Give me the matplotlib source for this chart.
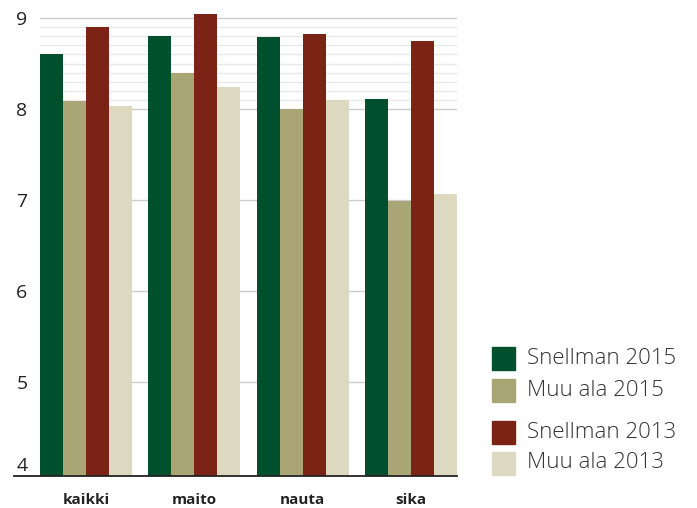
import numpy as np
import matplotlib
matplotlib.use("Agg")
import matplotlib.pyplot as plt
import matplotlib.transforms as mtransforms
from matplotlib.patches import Rectangle
from matplotlib.lines import Line2D

categories = ["kaikki", "maito", "nauta", "sika"]
series_names = ["Snellman 2015", "Muu ala 2015", "Snellman 2013", "Muu ala 2013"]
snellman_2015 = [8.60, 8.80, 8.79, 8.11]
muu_2015 = [8.09, 8.40, 8.00, 6.99]
snellman_2013 = [8.90, 9.04, 8.83, 8.75]
muu_2013 = [8.03, 8.24, 8.10, 7.07]
y_ticks = [4, 5, 6, 7, 8, 9]

colors = ["#004f2d", "#a9a575", "#7b2315", "#ddd9c1"]
series = [snellman_2015, muu_2015, snellman_2013, muu_2013]

plt.rcParams["font.family"] = ["Open Sans", "DejaVu Sans"]

W, H = 697, 508
fig = plt.figure(figsize=(W / 100, H / 100), dpi=100)
ax = fig.add_axes([40 / W, 1 - 476 / H, 417 / W, 467 / H])

x = np.arange(len(categories))
bw = 0.212
for i, (vals, c) in enumerate(zip(series, colors)):
    ax.bar(x + (i - 1.5) * bw, vals, bw, color=c, zorder=3)

ax.set_ylim(3.963, 9.1)
ax.set_xlim(-0.424, 3.424)

# grid: major lines plus fine lines between 8 and 9
for v in [5, 6, 7, 8, 9]:
    ax.axhline(v, color="#cccccc", lw=1, zorder=1)
for v in np.arange(8.1, 8.95, 0.1):
    ax.axhline(v, color="#e8e8e8", lw=1, zorder=1)

for s in ax.spines.values():
    s.set_visible(False)
ax.set_yticks(y_ticks)
ax.set_yticklabels([str(t) for t in y_ticks], fontsize=14, color="#222222")
ax.tick_params(axis="y", length=0, pad=9)
# lift the "4" so it sits above the baseline
lbl4 = ax.get_yticklabels()[0]
lbl4.set_transform(lbl4.get_transform() +
                   mtransforms.ScaledTranslation(0, 9 / 100, fig.dpi_scale_trans))
ax.set_xticks(x)
ax.set_xticklabels(categories, fontsize=11, fontweight="bold", color="#222222")
ax.tick_params(axis="x", length=0, pad=12)

# baseline
fig.add_artist(Line2D([14 / W, 457 / W], [1 - 476 / H, 1 - 476 / H],
                      color="#222222", lw=1.3))

# legend
centers = [358, 390, 432, 463]
for name, c, cy in zip(series_names, colors, centers):
    fig.add_artist(Rectangle((492 / W, 1 - (cy + 11.5) / H), 23 / W, 23 / H,
                             color=c, transform=fig.transFigure))
    fig.text(527 / W, 1 - cy / H, name, fontsize=16, color="#333333",
             va="center", ha="left", fontweight="light")

fig.savefig("out.png", dpi=100)
